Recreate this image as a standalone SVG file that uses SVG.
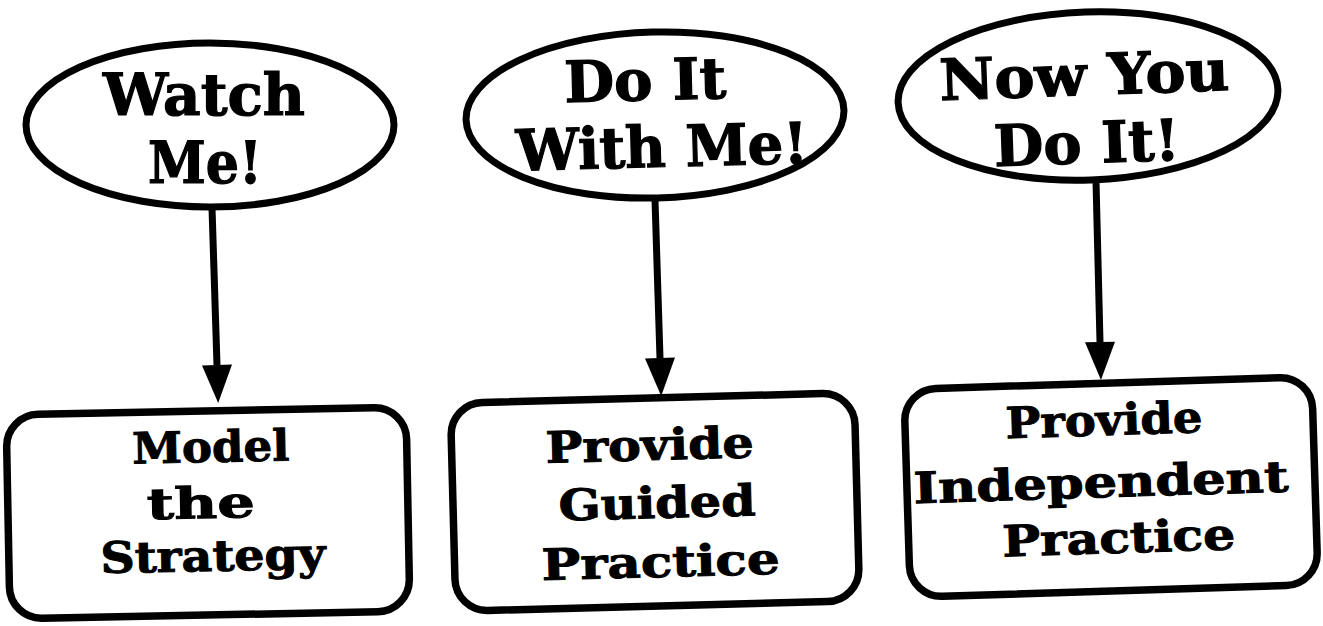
<svg xmlns="http://www.w3.org/2000/svg" width="1323" height="626" viewBox="0 0 1323 626">
  <defs>
    <style>
      .oval { fill: #fff; stroke: #000; stroke-width: 7; }
      .box { fill: #fff; stroke: #000; stroke-width: 7.5; }
      .big { font-family: "DejaVu Serif", "Liberation Serif", serif; font-weight: bold; font-size: 57px; fill: #000; stroke: #000; stroke-width: 1.2; text-anchor: middle; }
      .lbl { font-family: "DejaVu Serif", "Liberation Serif", serif; font-weight: bold; font-size: 43px; fill: #000; stroke: #000; stroke-width: 1; text-anchor: middle; }
      .link { stroke: #000; stroke-width: 7; fill: none; }
    </style>
    <marker id="head" markerUnits="userSpaceOnUse" markerWidth="38" markerHeight="32" refX="0" refY="16" orient="auto" overflow="visible">
      <path d="M0,1 L38,16 L0,31 z" fill="#000"/>
    </marker>
  </defs>

  <rect width="1323" height="626" fill="#fff"/>

  <!-- connectors: each oval points down to its step box -->
  <g id="connectors">
    <line class="link" x1="212" y1="208" x2="217" y2="365" marker-end="url(#head)"/>
    <line class="link" x1="655" y1="200" x2="660" y2="358" marker-end="url(#head)"/>
    <line class="link" x1="1096" y1="181" x2="1100" y2="342" marker-end="url(#head)"/>
  </g>

  <!-- top row: ovals -->
  <g id="watch-me">
    <ellipse class="oval" cx="210" cy="125" rx="184" ry="82"/>
    <text class="big" x="204" y="115" textLength="202" lengthAdjust="spacingAndGlyphs">Watch</text>
    <text class="big" x="205" y="183" textLength="114" lengthAdjust="spacingAndGlyphs">Me!</text>
  </g>

  <g id="do-it-with-me" transform="rotate(-1.5 655 115)">
    <ellipse class="oval" cx="655" cy="115" rx="189" ry="83"/>
    <text class="big" x="646" y="100" textLength="162" lengthAdjust="spacingAndGlyphs">Do It</text>
    <text class="big" x="661" y="167" textLength="292" lengthAdjust="spacingAndGlyphs">With Me!</text>
  </g>

  <g id="now-you-do-it" transform="rotate(-2 1088 96)">
    <ellipse class="oval" cx="1088" cy="96" rx="190" ry="84"/>
    <text class="big" x="1085" y="95" textLength="290" lengthAdjust="spacingAndGlyphs">Now You</text>
    <text class="big" x="1085" y="163" textLength="186" lengthAdjust="spacingAndGlyphs">Do It!</text>
  </g>

  <!-- bottom row: step boxes -->
  <g id="model-strategy" transform="rotate(-1.1 208 513)">
    <rect class="box" x="8" y="411" width="400" height="204" rx="32"/>
    <text class="lbl" x="212" y="462" textLength="157" lengthAdjust="spacingAndGlyphs">Model</text>
    <text class="lbl" x="201" y="518" textLength="108" lengthAdjust="spacingAndGlyphs">the</text>
    <text class="lbl" x="212" y="571" textLength="225" lengthAdjust="spacingAndGlyphs">Strategy</text>
  </g>

  <g id="guided-practice" transform="rotate(-1.5 655 502)">
    <rect class="box" x="453" y="398" width="404" height="208" rx="32"/>
    <text class="lbl" x="651" y="460" textLength="208" lengthAdjust="spacingAndGlyphs">Provide</text>
    <text class="lbl" x="657" y="518" textLength="197" lengthAdjust="spacingAndGlyphs">Guided</text>
    <text class="lbl" x="659" y="577" textLength="238" lengthAdjust="spacingAndGlyphs">Practice</text>
  </g>

  <g id="independent-practice" transform="rotate(-1.8 1111 487)">
    <rect class="box" x="907" y="383" width="408" height="208" rx="32"/>
    <text class="lbl" x="1106" y="435" textLength="197" lengthAdjust="spacingAndGlyphs">Provide</text>
    <text class="lbl" x="1101" y="497" textLength="375" lengthAdjust="spacingAndGlyphs">Independent</text>
    <text class="lbl" x="1117" y="553" textLength="233" lengthAdjust="spacingAndGlyphs">Practice</text>
  </g>
</svg>
